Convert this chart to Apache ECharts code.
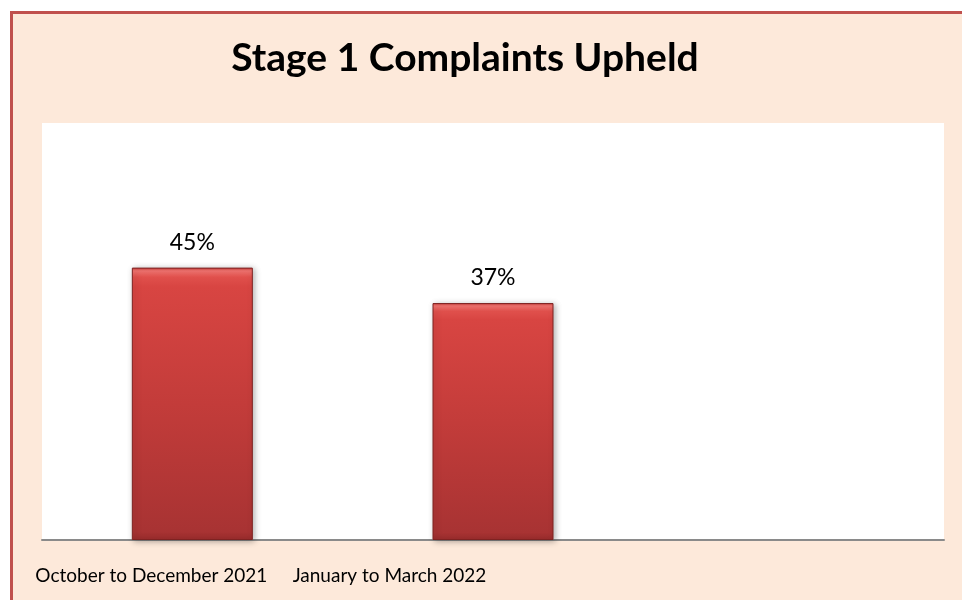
<!DOCTYPE html>
<html>
<head>
<meta charset="utf-8">
<title>Stage 1 Complaints Upheld</title>
<script src="https://cdn.jsdelivr.net/npm/echarts@6/dist/echarts.min.js"></script>
<style>
    html, body { margin: 0; padding: 0; background: #fff; }
    #chart { width: 962px; height: 600px; }
</style>
</head>
<body>
<div id="chart"></div>
<script>
// quarters shown on the axis (third slot is empty in the original)
var quarters = ['October to December 2021', 'January to March 2022', ''];
// percent of stage 1 complaints upheld
var upheld = [45, 37];
// how far each label sits left of its slot centre (original layout quirk)
var labelShift = [82, 207, 0];

var chart = echarts.init(document.getElementById('chart'));

var option = {
    backgroundColor: '#ffffff',
    animation: false,
    graphic: [{
        type: 'rect',
        z: -10,
        shape: { x: 11.5, y: 12.5, width: 980, height: 620 },
        style: { fill: '#FDE9DA', stroke: '#C0504D', lineWidth: 3 }
    }],
    title: {
        text: 'Stage 1 Complaints Upheld',
        left: 460,
        top: 34,
        textAlign: 'center',
        textStyle: {
            fontFamily: 'Lato',
            fontWeight: 'bold',
            fontSize: 39,
            color: '#000'
        }
    },
    grid: {
        left: 42,
        top: 123,
        right: 18,
        bottom: 60,
        show: true,
        backgroundColor: '#ffffff',
        borderWidth: 0
    },
    xAxis: {
        type: 'category',
        data: quarters,
        axisTick: { show: false },
        axisLine: { lineStyle: { color: '#8A8A8A', width: 2 } },
        axisLabel: {
            margin: 26,
            interval: 0,
            fontFamily: 'Lato',
            fontSize: 19,
            color: '#000',
            formatter: function (v, i) {
                return '{s' + i + '|' + v + '}';
            },
            rich: {
                s0: { padding: [0, labelShift[0], 0, 0], fontFamily: 'Lato', fontSize: 19, color: '#000' },
                s1: { padding: [0, labelShift[1], 0, 0], fontFamily: 'Lato', fontSize: 19, color: '#000' },
                s2: { padding: [0, labelShift[2], 0, 0], fontFamily: 'Lato', fontSize: 19, color: '#000' }
            }
        }
    },
    yAxis: {
        type: 'log',
        logBase: 10,
        min: 10,
        max: 100,
        startValue: 10,
        show: false,
        splitLine: { show: false }
    },
    series: [{
        type: 'bar',
        data: upheld,
        barWidth: 121,
        clip: true,
        itemStyle: {
            color: new echarts.graphic.LinearGradient(0, 0, 0, 1, [
                { offset: 0, color: '#C43A37' },
                { offset: 0.012, color: '#F27470' },
                { offset: 0.035, color: '#E0504C' },
                { offset: 0.07, color: '#D84542' },
                { offset: 0.5, color: '#C33C3A' },
                { offset: 0.97, color: '#A83333' },
                { offset: 1, color: '#9A2C2C' }
            ]),
            borderColor: '#7E2221',
            borderWidth: 1,
            shadowColor: 'rgba(0,0,0,0.3)',
            shadowBlur: 6,
            shadowOffsetX: 2,
            shadowOffsetY: 1
        },
        label: {
            show: true,
            position: 'top',
            distance: 14,
            fontFamily: 'Lato',
            fontSize: 23,
            color: '#000',
            formatter: '{c}%'
        }
    }]
};

chart.setOption(option);
</script>
</body>
</html>
